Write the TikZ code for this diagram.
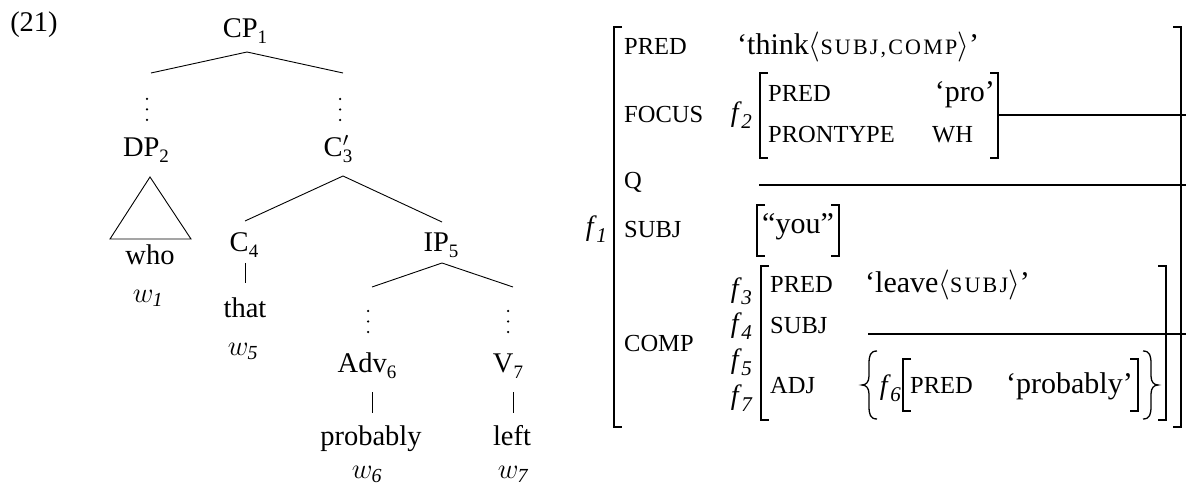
\RequirePackage{fix-cm}
\documentclass[tikz,border=0pt]{standalone}
\usepackage{fontspec}
\setmainfont{Liberation Serif}
\newfontfamily\scfont[LetterSpace=10]{Liberation Serif}
\newcommand\sbs[1]{\raisebox{-6pt}{\fontsize{19}{19}\selectfont #1}}
\newcommand\fv[1]{\textit{f}\kern-0.5pt\raisebox{-7pt}{\fontsize{21}{21}\selectfont\itshape #1}}
\newcommand\smc[1]{{\scfont\fontsize{22}{24}\selectfont #1}}
\newcommand\wv[1]{$w_{\mathit{#1}}$}
\newcommand\lbrk[3]{\draw[brk] (#1+8,#2) -- (#1,#2) -- (#1,#3) -- (#1+8,#3);}
\newcommand\rbrk[3]{\draw[brk] (#1-8,#2) -- (#1,#2) -- (#1,#3) -- (#1-8,#3);}
\tikzset{
  tr/.style={font=\fontsize{28.5}{34}\selectfont, inner sep=0pt, anchor=base},
  fn/.style={font=\fontsize{24.5}{30}\selectfont, inner sep=0pt, anchor=base west},
  vl/.style={font=\fontsize{30}{36}\selectfont, inner sep=0pt, anchor=base west},
  fl/.style={font=\fontsize{28}{32}\selectfont, inner sep=0pt, anchor=east},
  brk/.style={line width=1.5pt},
  edge/.style={line width=0.9pt},
  cline/.style={line width=1.1pt},
  brace/.style={line width=1.3pt},
}
\begin{document}
\begin{tikzpicture}[x=1pt,y=-1pt]
\useasboundingbox (0,0) rectangle (1186,486);
% ---------------- tree ----------------
\node[tr] (ex) at (34,32) {(21)};
\node[tr] (cp) at (245,38) {CP\sbs{1}};
\node[tr] (dp) at (146,157) {DP\sbs{2}};
\node[tr] (cbar) at (338,157) {C\rlap{$'$}\sbs{3}};
\node[tr] (c4) at (244,252) {C\sbs{4}};
\node[tr] (ip) at (441,252) {IP\sbs{5}};
\node[tr] (who) at (150,265) {who};
\node[tr] (w1) at (148,302) {\wv{1}};
\node[tr] (that) at (245,318) {that};
\node[tr] (w5) at (243,355) {\wv{5}};
\node[tr] (adv) at (367,372) {Adv\sbs{6}};
\node[tr] (v) at (508,372) {V\sbs{7}};
\node[tr] (prob) at (371,445) {probably};
\node[tr] (left) at (512,445) {left};
\node[tr] (w6) at (367,478) {\wv{6}};
\node[tr] (w7) at (513,478) {\wv{7}};

\coordinate (cpA) at (247,52);
\coordinate (dpT) at (151,73);
\coordinate (cbT) at (343,73);
\draw[edge] (dpT) -- (cpA) -- (cbT);
\foreach \yy in {99,109.5,120}{
  \fill (147,\yy) circle (1.25pt);
  \fill (340,\yy) circle (1.25pt);
}
\draw[edge] (150,177) -- (110,239) -- (191,239) -- cycle;
\coordinate (cbA) at (343,176);
\coordinate (c4T) at (245,221);
\coordinate (ipT) at (442,222);
\draw[edge] (c4T) -- (cbA) -- (ipT);
\coordinate (c4B) at (245,263);
\coordinate (thatT) at (245,283);
\draw[edge] (c4B) -- (thatT);
\coordinate (ipA) at (442,263);
\coordinate (advT) at (372,287);
\coordinate (vT) at (513,287);
\draw[edge] (advT) -- (ipA) -- (vT);
\foreach \yy in {311,321.5,332}{
  \fill (368,\yy) circle (1.25pt);
  \fill (508,\yy) circle (1.25pt);
}
\coordinate (advB) at (372,392);
\coordinate (probT) at (372,413);
\draw[edge] (advB) -- (probT);
\coordinate (vB) at (513,392);
\coordinate (leftT) at (513,413);
\draw[edge] (vB) -- (leftT);

% ---------------- f-structure ----------------
\lbrk{614}{27}{427}
\rbrk{1181}{27}{427}
\node[fl] (f1) at (607,229) {\fv{1}};
\node[fn] (a1) at (624,55) {PRED};
\node[vl] (v1) at (737,55) {‘think$\langle$\smc{SUBJ,COMP}$\rangle$’};
\node[fn] (a2) at (624,123) {FOCUS};
\node[fl] (f2) at (752,115) {\fv{2}};
\lbrk{760}{73}{158}
\rbrk{998}{73}{158}
\node[fn] (a21) at (768,102) {PRED};
\node[vl,anchor=base east] (v21) at (995,102) {‘pro’};
\node[fn] (a22) at (768,143) {PRONTYPE};
\node[fn] (v22) at (932,143) {WH};
\node[fn] (a3) at (624,189) {Q};
\node[fn] (a4) at (624,238) {SUBJ};
\lbrk{757}{205}{256}
\rbrk{839}{205}{256}
\node[vl,anchor=base] (v4) at (798,234) {“you”};
\node[fn] (a5) at (624,351) {COMP};
\node[fl] (f3) at (752,291) {\fv{3}};
\node[fl] (f4) at (752,326) {\fv{4}};
\node[fl] (f5) at (752,362) {\fv{5}};
\node[fl] (f7) at (752,398) {\fv{7}};
\lbrk{761}{266}{420}
\rbrk{1166}{266}{420}
\node[fn] (a51) at (770,293) {PRED};
\node[vl] (v51) at (865,293) {‘leave$\langle$\smc{SUBJ}$\rangle$’};
\node[fn] (a52) at (770,334) {SUBJ};
\node[fn] (a53) at (770,393) {ADJ};
\draw[brace] (877,351) .. controls (870,351) and (869,356) .. (869,364) -- (869,376)
  .. controls (869,382) and (866,385) .. (862,385)
  .. controls (866,385) and (869,388) .. (869,394) -- (869,406)
  .. controls (869,414) and (870,419) .. (877,419);
\node[fl] (f6) at (901,388) {\fv{6}};
\lbrk{903}{359}{411}
\rbrk{1138}{359}{411}
\node[fn] (a61) at (910,393) {PRED};
\node[vl,anchor=base east] (v61) at (1133,393) {‘probably’};
\draw[brace] (1143,351) .. controls (1150,351) and (1151,356) .. (1151,364) -- (1151,376)
  .. controls (1151,382) and (1154,385) .. (1158,385)
  .. controls (1154,385) and (1151,388) .. (1151,394) -- (1151,406)
  .. controls (1151,414) and (1150,419) .. (1143,419);

% lines to the shared f-structures
\coordinate (f2R) at (998,115);
\coordinate (e1) at (1186,115);
\draw[cline] (f2R) -- (e1);
\coordinate (qS) at (759,185);
\coordinate (e2) at (1186,185);
\draw[cline] (qS) -- (e2);
\coordinate (sS) at (868,334);
\coordinate (e3) at (1186,334);
\draw[cline] (sS) -- (e3);
\end{tikzpicture}
\end{document}
